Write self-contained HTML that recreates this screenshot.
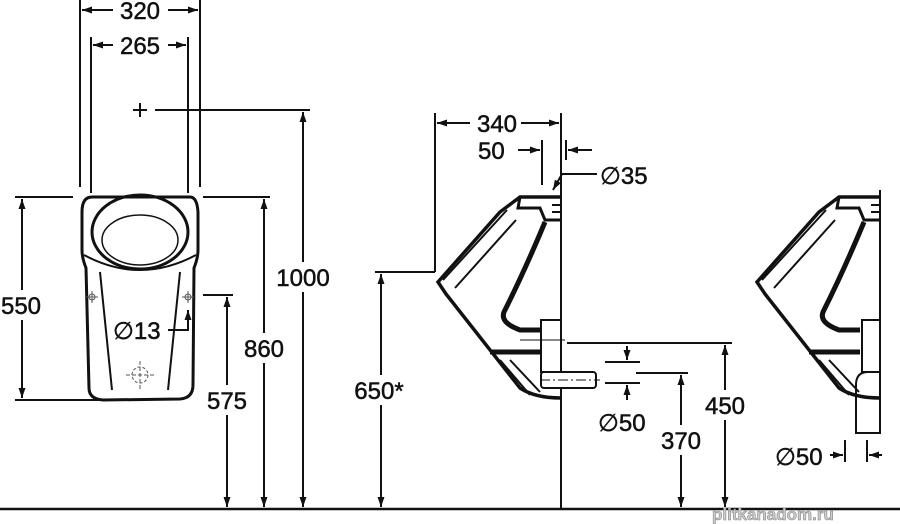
<!DOCTYPE html>
<html><head><meta charset="utf-8"><style>
html,body{margin:0;padding:0;background:#fff;}
svg{display:block;}
text{font-family:"Liberation Sans",Arial,sans-serif;font-size:24px;fill:#111;stroke:#111;stroke-width:0.5;}
</style></head><body>
<svg width="900" height="524" viewBox="0 0 900 524" xmlns="http://www.w3.org/2000/svg">
<defs>
<marker id="a" viewBox="0 0 10 10" refX="10" refY="5" markerWidth="10" markerHeight="10" orient="auto-start-reverse" markerUnits="userSpaceOnUse"><path d="M0,1.5 L10,5 L0,8.5 z" fill="#111"/></marker>
<g id="uri" fill="none" stroke="#111">
  <path d="M561,197 L520,197 L500,212 L438,282 L446,294 L520,388 Q535,398 561,398" stroke-width="3.5"/>
  <path d="M520,197 L518,208 L540,208 L545,220 L561,220" stroke-width="3"/>
  <path d="M507,210 L443,280 M516,220 L455,288" stroke-width="2"/>
  <path d="M545,222 Q525,270 505,310 Q498,322 520,330 L541,330" stroke-width="5"/>
  <path d="M490,352 L541,352" stroke-width="5"/>
  <path d="M500,360 L530,395 M510,360 L540,392" stroke-width="2"/>
  <path d="M552,205 L561,205 M552,212 L561,212" stroke-width="2"/>
</g>
</defs>
<g stroke="#111" stroke-width="2" fill="none">
<line x1="0" y1="509" x2="900" y2="509" stroke-width="2.5"/>
<line x1="80" y1="0" x2="80" y2="187"/><line x1="200" y1="0" x2="200" y2="187"/>
<line x1="91" y1="37" x2="91" y2="193"/><line x1="188" y1="37" x2="188" y2="193"/>
<line x1="82" y1="10" x2="113" y2="10" marker-start="url(#a)"/><line x1="168" y1="10" x2="198" y2="10" marker-end="url(#a)"/>
<line x1="93" y1="45" x2="113" y2="45" marker-start="url(#a)"/><line x1="168" y1="45" x2="186" y2="45" marker-end="url(#a)"/>
<line x1="133" y1="110" x2="147" y2="110"/><line x1="140" y1="103" x2="140" y2="117"/>
<line x1="155" y1="110" x2="310" y2="110"/>
<line x1="303" y1="112" x2="303" y2="262" marker-start="url(#a)"/><line x1="303" y1="292" x2="303" y2="507" marker-end="url(#a)"/>
<line x1="15" y1="197" x2="73" y2="197"/><line x1="15" y1="400" x2="103" y2="400"/>
<line x1="22" y1="199" x2="22" y2="290" marker-start="url(#a)"/><line x1="22" y1="320" x2="22" y2="398" marker-end="url(#a)"/>
<line x1="203" y1="197" x2="270" y2="197"/>
<line x1="264" y1="199" x2="264" y2="333" marker-start="url(#a)"/><line x1="264" y1="363" x2="264" y2="507" marker-end="url(#a)"/>
<line x1="203" y1="295" x2="233" y2="295"/>
<line x1="227" y1="297" x2="227" y2="385" marker-start="url(#a)"/><line x1="227" y1="415" x2="227" y2="507" marker-end="url(#a)"/>
<path d="M92,197 L190,197 Q197,197 198,212 L198,250 Q198,258 194,268 L193,385 Q193,398 180,399 L103,400 Q89,399 89,388 L86,268 Q82,258 82,250 L82,212 Q82,197 92,197 Z" stroke-width="3"/>
<ellipse cx="140" cy="232" rx="48" ry="37" stroke-width="3"/>
<ellipse cx="140" cy="240" rx="38" ry="25" stroke-width="1.5"/>
<path d="M84,255 Q140,285 196,255" />
<path d="M100,272 L112,390 M180,272 L168,390"/>
<g stroke-width="1" stroke="#555"><circle cx="92" cy="297" r="3"/><line x1="86" y1="297" x2="98" y2="297"/><line x1="92" y1="291" x2="92" y2="303"/>
<circle cx="188" cy="297" r="3"/><line x1="182" y1="297" x2="194" y2="297"/><line x1="188" y1="291" x2="188" y2="303"/>
<circle cx="140" cy="375" r="8" stroke-dasharray="3 2"/><line x1="126" y1="375" x2="154" y2="375" stroke-dasharray="4 2"/><line x1="140" y1="361" x2="140" y2="389" stroke-dasharray="4 2"/></g>
<path d="M168,330 L188,330 L188,310" marker-end="url(#a)"/>
<line x1="435" y1="113" x2="435" y2="272"/><line x1="435" y1="272" x2="375" y2="272"/>
<line x1="561" y1="113" x2="561" y2="510"/>
<line x1="437" y1="123" x2="470" y2="123" marker-start="url(#a)"/><line x1="521" y1="123" x2="559" y2="123" marker-end="url(#a)"/>
<line x1="542" y1="140" x2="542" y2="185"/><line x1="566" y1="140" x2="566" y2="160"/>
<line x1="518" y1="150" x2="540" y2="150" marker-end="url(#a)"/><line x1="592" y1="150" x2="568" y2="150" marker-end="url(#a)"/>
<path d="M597,174 L562,174 L553,190" marker-end="url(#a)"/>
<line x1="381" y1="274" x2="381" y2="375" marker-start="url(#a)"/><line x1="381" y1="405" x2="381" y2="507" marker-end="url(#a)"/>
<line x1="567" y1="343" x2="732" y2="343"/>
<line x1="725" y1="345" x2="725" y2="390" marker-start="url(#a)"/><line x1="725" y1="420" x2="725" y2="507" marker-end="url(#a)"/>
<line x1="605" y1="362" x2="640" y2="362"/><line x1="605" y1="383" x2="640" y2="383"/>
<line x1="627" y1="346" x2="627" y2="360" marker-end="url(#a)"/><line x1="627" y1="400" x2="627" y2="385" marker-end="url(#a)"/>
<line x1="636" y1="373" x2="688" y2="373"/>
<line x1="681" y1="375" x2="681" y2="425" marker-start="url(#a)"/><line x1="681" y1="455" x2="681" y2="507" marker-end="url(#a)"/>
<rect x="541" y="320" width="20" height="52" fill="#fff"/>
<rect x="541" y="372" width="55" height="16" rx="3" fill="#fff"/>
<line x1="540" y1="380" x2="600" y2="380" stroke-dasharray="10 3 2 3" stroke-width="1"/>
<line x1="520" y1="340" x2="565" y2="340" stroke-width="1"/>
<rect x="862" y="320" width="18" height="52" fill="#fff"/>
<path d="M856,433 L856,385 Q856,372 868,372 L880,372 L880,433 Z" fill="#fff"/>
<line x1="845" y1="440" x2="845" y2="462"/><line x1="867" y1="440" x2="867" y2="462"/>
<line x1="830" y1="455" x2="843" y2="455" marker-end="url(#a)"/><line x1="882" y1="455" x2="869" y2="455" marker-end="url(#a)"/>
<line x1="880" y1="190" x2="880" y2="320"/>
</g>
<use href="#uri"/>
<use href="#uri" transform="translate(319,0)"/>
<text x="140" y="19" text-anchor="middle">320</text>
<text x="140" y="54" text-anchor="middle">265</text>
<text x="303" y="286" text-anchor="middle">1000</text>
<text x="21" y="314" text-anchor="middle">550</text>
<text x="264" y="357" text-anchor="middle">860</text>
<text x="227" y="409" text-anchor="middle">575</text>
<text x="113" y="339">∅13</text>
<text x="497" y="132" text-anchor="middle">340</text>
<text x="478" y="159">50</text>
<text x="600" y="184">∅35</text>
<text x="379" y="399" text-anchor="middle">650*</text>
<text x="598" y="431">∅50</text>
<text x="725" y="414" text-anchor="middle">450</text>
<text x="681" y="449" text-anchor="middle">370</text>
<text x="775" y="465">∅50</text>
<text x="712" y="520" style="font-size:17px;fill:#ccc;stroke:#888;stroke-width:0.6;font-weight:bold">plitkanadom.ru</text>
</svg>
</body></html>
